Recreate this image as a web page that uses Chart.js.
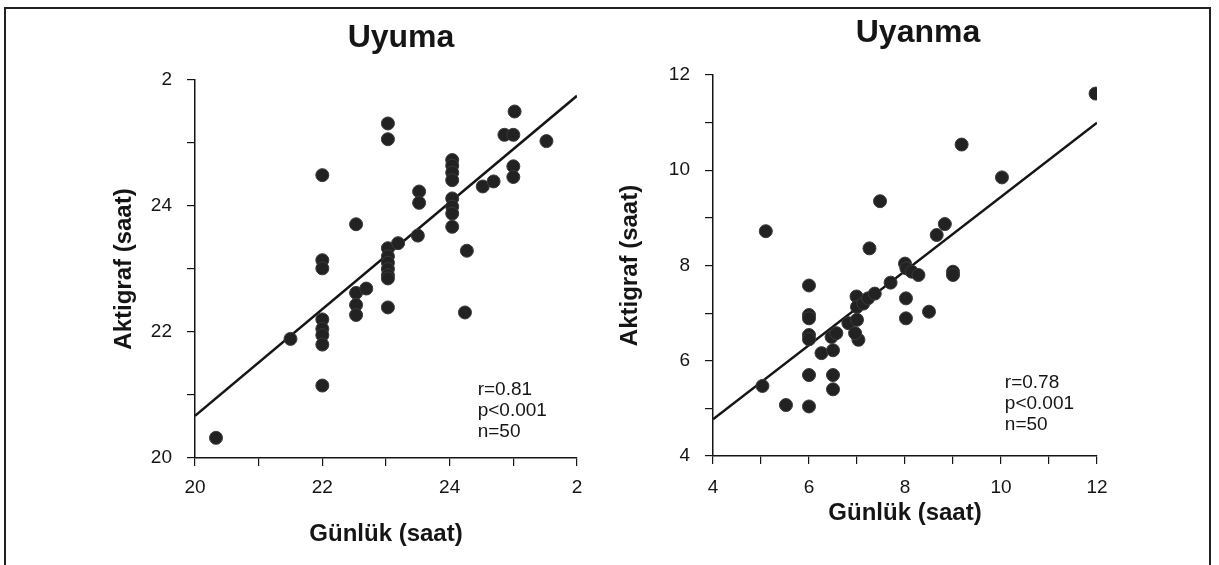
<!DOCTYPE html>
<html lang="tr">
<head>
<meta charset="UTF-8">
<title>Uyuma / Uyanma</title>
<script src="https://cdn.jsdelivr.net/npm/chart.js"></script>
<style>
  body { margin: 0; background: #fff; overflow: hidden; width: 1219px; height: 565px; position: relative; font-family: Arial, "Liberation Sans", sans-serif; }
  #frame { position: absolute; left: 4px; top: 7px; width: 1203px; height: 600px; border: 2px solid #222; }
  .box { position: absolute; top: 0; height: 565px; }
  #leftBox { left: 100px; width: 602px; }
  #rightBox { left: 610px; width: 616px; }
</style>
</head>
<body>
<div id="frame"></div>
<div class="box" id="leftBox"><canvas id="uyumaChart"></canvas></div>
<div class="box" id="rightBox"><canvas id="uyanmaChart"></canvas></div>

<script>
// Uyuma (uykuya dalma saati) - günlük vs aktigraf
const uyumaGunluk = [20.33, 21.5,
  22, 22, 22, 22, 22, 22, 22, 22,
  22.53, 22.53, 22.53, 22.53, 22.69,
  23.03, 23.03, 23.03, 23.03, 23.03, 23.03, 23.03, 23.03, 23.03, 23.19,
  23.5, 23.52, 23.52,
  24.04, 24.04, 24.04, 24.04, 24.04, 24.04, 24.04, 24.04,
  24.27, 24.24, 24.52, 24.69,
  25.02, 24.86, 25.0, 25.0, 25.0, 25.52];
const uyumaAktigraf = [20.32, 21.89,
  24.49, 23.14, 23.01, 22.2, 22.05, 21.95, 21.8, 21.15,
  23.71, 22.62, 22.43, 22.27, 22.69,
  25.31, 25.06, 23.33, 23.2, 23.1, 23.0, 22.9, 22.85, 22.39, 23.41,
  23.53, 24.23, 24.05,
  24.73, 24.64, 24.53, 24.41, 24.12, 23.99, 23.88, 23.67,
  23.29, 22.31, 24.31, 24.39,
  25.5, 25.13, 25.13, 24.63, 24.46, 25.03];
const uyumaFitX = [20, 26];
const uyumaFitY = [20.67, 25.75];
const uyumaTicks = { 20: '20', 22: '22', 24: '24', 26: '2' };
const uyumaStats = ['r=0.81', 'p<0.001', 'n=50'];

// Uyanma (uyanma saati)
const uyanmaGunluk = [5.1, 5.03, 5.52,
  6, 6, 6, 6, 6, 6, 6,
  6.26, 6.47, 6.5, 6.5, 6.5, 6.57,
  6.82, 6.99, 7.0, 7.0, 7.03, 6.96,
  7.13, 7.23, 7.37, 7.26, 7.48, 7.7,
  8.0, 8.03, 8.02, 8.02, 8.14, 8.28,
  8.5, 8.66, 8.83, 9.0, 9.0, 9.18, 10.02, 11.97];
const uyanmaAktigraf = [8.72, 5.47, 5.07,
  7.58, 6.96, 6.89, 6.54, 6.45, 5.70, 5.04,
  6.16, 6.5, 6.22, 5.7, 5.4, 6.58,
  6.79, 7.35, 7.13, 6.86, 6.44, 6.58,
  7.2, 7.31, 7.41, 8.36, 9.35, 7.64,
  8.04, 7.94, 7.31, 6.89, 7.87, 7.8,
  7.03, 8.64, 8.87, 7.87, 7.8, 10.54, 9.85, 11.61];
const uyanmaFitX = [4, 12];
const uyanmaFitY = [4.77, 11.0];
const uyanmaTicks = { 4: '4', 6: '6', 8: '8', 10: '10', 12: '12' };
const uyanmaStats = ['r=0.78', 'p<0.001', 'n=50'];

const INK = '#151515';

// r / p / n yazısı, veri koordinatına göre
const statsText = {
  id: 'statsText',
  afterDatasetsDraw(chart, args, opts) {
    const ctx = chart.ctx;
    const x = chart.scales.x.getPixelForValue(opts.x);
    const y = chart.scales.y.getPixelForValue(opts.y);
    ctx.save();
    ctx.fillStyle = INK;
    ctx.font = '19px Arial, "Liberation Sans", sans-serif';
    ctx.textAlign = 'left';
    ctx.textBaseline = 'top';
    opts.lines.forEach((t, i) => ctx.fillText(t, x, y + i * 21));
    ctx.restore();
  }
};

function makeChart(id, cfg) {
  const pts = cfg.xs.map((v, i) => ({ x: v, y: cfg.ys[i] }));
  const fit = cfg.fitX.map((v, i) => ({ x: v, y: cfg.fitY[i] }));
  const tickFont = { family: 'Arial, "Liberation Sans", sans-serif', size: 19 };
  const titleFont = { family: 'Arial, "Liberation Sans", sans-serif', size: 24, weight: 'bold' };
  return new Chart(document.getElementById(id), {
    type: 'scatter',
    data: {
      datasets: [{
        data: pts,
        backgroundColor: '#222',
        borderColor: '#3a3a3a',
        borderWidth: 1,
        pointRadius: 6.5
      }, {
        data: fit,
        showLine: true,
        borderColor: INK,
        borderWidth: 2.5,
        pointRadius: 0
      }]
    },
    plugins: [statsText],
    options: {
      responsive: true,
      maintainAspectRatio: false,
      animation: false,
      layout: { padding: 0 },
      plugins: {
        legend: { display: false },
        tooltip: { enabled: false },
        title: {
          display: true,
          text: cfg.title,
          color: INK,
          font: { family: 'Arial, "Liberation Sans", sans-serif', size: 32, weight: 'bold' },
          padding: { top: cfg.titleTop, bottom: cfg.titleBottom }
        },
        statsText: { x: cfg.statX, y: cfg.statY, lines: cfg.stats }
      },
      scales: {
        x: {
          type: 'linear',
          min: cfg.min, max: cfg.max,
          afterFit: s => { s.height = cfg.xHeight; },
          border: { display: true, color: INK, width: 1.5 },
          grid: { display: true, drawOnChartArea: false, drawTicks: true, tickLength: 8, color: INK, lineWidth: 1.2 },
          ticks: {
            stepSize: 1, autoSkip: false, maxRotation: 0,
            color: INK, font: tickFont, padding: cfg.xPad,
            callback: v => cfg.ticks[v] || ''
          },
          title: {
            display: true, text: 'Günlük (saat)', color: INK, font: titleFont,
            padding: { top: 0, bottom: cfg.xTitleBottom }
          }
        },
        y: {
          type: 'linear',
          min: cfg.min, max: cfg.max,
          afterFit: s => { s.width = cfg.yWidth; },
          border: { display: true, color: INK, width: 1.5 },
          grid: { display: true, drawOnChartArea: false, drawTicks: true, tickLength: 8, color: INK, lineWidth: 1.2 },
          ticks: {
            stepSize: 1, autoSkip: false,
            color: INK, font: tickFont, padding: 15,
            callback: v => cfg.ticks[v] || ''
          },
          title: {
            display: true, text: 'Aktigraf (saat)', color: INK, font: titleFont,
            padding: { top: cfg.yTitleTop, bottom: 0 }
          }
        },
        // boş sağ eksen: sadece sağda boşluk bırakır, başlık ortalı kalır
        spacer: {
          type: 'linear', position: 'right', min: 0, max: 1,
          afterFit: s => { s.width = cfg.padRight; },
          border: { display: false },
          grid: { display: false },
          ticks: { display: false }
        }
      }
    }
  });
}

makeChart('uyumaChart', {
  title: 'Uyuma', xs: uyumaGunluk, ys: uyumaAktigraf,
  fitX: uyumaFitX, fitY: uyumaFitY, ticks: uyumaTicks, stats: uyumaStats,
  min: 20, max: 26, statX: 24.44, statY: 21.24,
  padRight: 125, titleTop: 19, titleBottom: 22.6,
  xHeight: 107, xPad: 10, xTitleBottom: 16, yWidth: 95, yTitleTop: 9.6
});

makeChart('uyanmaChart', {
  title: 'Uyanma', xs: uyanmaGunluk, ys: uyanmaAktigraf,
  fitX: uyanmaFitX, fitY: uyanmaFitY, ticks: uyanmaTicks, stats: uyanmaStats,
  min: 4, max: 12, statX: 10.08, statY: 5.74,
  padRight: 129, titleTop: 14, titleBottom: 22.6,
  xHeight: 109, xPad: 12, xTitleBottom: 37, yWidth: 103, yTitleTop: 5.6
});
</script>
</body>
</html>
